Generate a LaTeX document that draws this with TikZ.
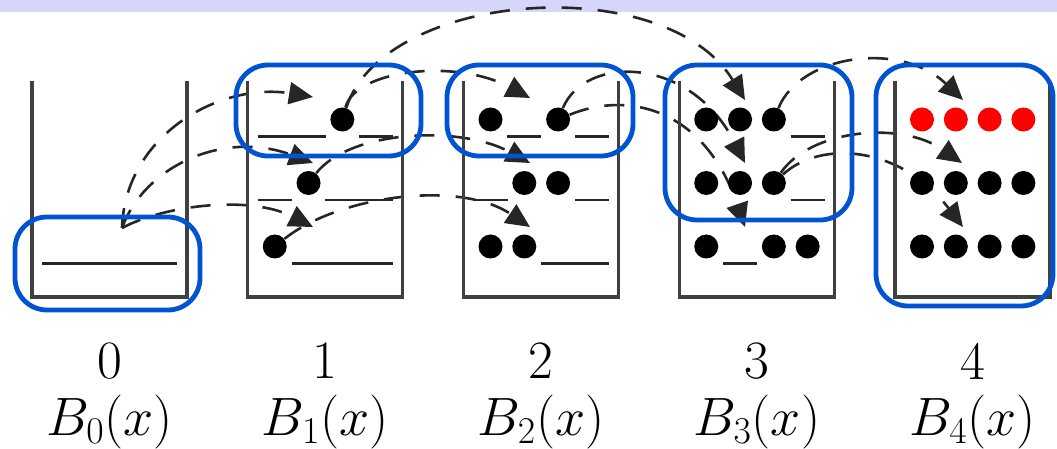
\RequirePackage{fix-cm}
\documentclass[tikz,border=0pt]{standalone}
\usepackage{tikz}
\usetikzlibrary{arrows.meta,backgrounds}

\definecolor{hlblue}{RGB}{0,84,210}
\definecolor{bandlilac}{RGB}{214,214,250}

% one row of four slots: bucket, row, cells (0 empty, 1 ball, 2 red ball)
\newcommand{\slotrow}[3]{%
  \foreach \cell [count=\k] in {#3}{%
    \pgfmathsetmacro{\sx}{32+215.75*#1+27+33.8*(\k-1)}%
    \pgfmathsetmacro{\sy}{73+63.5*#2}%
    \ifcase\cell
      \draw[slot] (\sx-17,\sy) -- (\sx+17,\sy);
    \or
      \node[ball] (d#1-#2-\k) at (\sx,\sy-17) {};
    \or
      \node[redball] (d#1-#2-\k) at (\sx,\sy-17) {};
    \fi
  }}

\begin{document}
\begin{tikzpicture}[x=0.5pt, y=-0.5pt,
  wall/.style={draw=black!75, line width=1.6pt},
  slot/.style={draw=black!85, line width=1.3pt},
  ball/.style={circle, fill=black, inner sep=0pt, minimum size=12pt},
  redball/.style={ball, fill=red},
  hop/.style={draw=black!85, line width=1.3pt, dash pattern=on 10pt off 8pt,
    -{Triangle[length=12pt,width=11pt]}},
  hlbox/.style={draw=hlblue, line width=2.4pt, rounded corners=16pt},
  lbl/.style={font=\fontsize{27}{32}\selectfont}]
\useasboundingbox (0,0) rectangle (1057,449);

% buckets and their labels
\foreach \i in {0,...,4}{
  \pgfmathsetmacro{\xl}{32+215.75*\i}
  \draw[wall] (\xl,81) -- (\xl,297) -- (\xl+155,297) -- (\xl+155,81);
  \node[lbl] (n\i) at (\xl+77.5,361) {\i};
  \node[lbl] (b\i) at (\xl+77.5,422) {$B_{\i}(x)$};
}

% contents
\slotrow{0}{3}{0,0,0,0}
\slotrow{1}{1}{0,0,1,0}
\slotrow{1}{2}{0,1,0,0}
\slotrow{1}{3}{1,0,0,0}
\slotrow{2}{1}{1,0,1,0}
\slotrow{2}{2}{0,1,1,0}
\slotrow{2}{3}{1,1,0,0}
\slotrow{3}{1}{1,1,1,0}
\slotrow{3}{2}{1,1,1,0}
\slotrow{3}{3}{1,0,1,1}
\slotrow{4}{1}{2,2,2,2}
\slotrow{4}{2}{1,1,1,1}
\slotrow{4}{3}{1,1,1,1}

\coordinate (s0) at (122,228);
\coordinate (t1-1) at (313,97);
\coordinate (t1-2) at (313,163);
\coordinate (t1-3) at (313,227);
\coordinate (t2-1) at (530,98);
\coordinate (t2-2) at (530,163);
\coordinate (t2-3) at (530,227);
\coordinate (t3-1) at (745,100);
\coordinate (t3-2) at (745,163);
\coordinate (t3-3) at (745,227);
\coordinate (t4-1) at (963,100);
\coordinate (t4-2) at (962,163);
\coordinate (t4-3) at (963,227);

\begin{scope}[on background layer]
\fill[bandlilac] (0,0) rectangle (1057,12);
\draw[hop] (s0) .. controls (125,135) and (220,82) .. (t1-1);
\draw[hop] (s0) .. controls (145,165) and (225,130) .. (t1-2);
\draw[hop] (s0) .. controls (165,205) and (250,195) .. (t1-3);
\draw[hop] (d1-1-3) .. controls (355,70) and (455,58) .. (t2-1);
\draw[hop] (d1-1-3) .. controls (385,-10) and (665,-30) .. (t3-1);
\draw[hop] (d1-2-2) .. controls (350,130) and (460,125) .. (t2-2);
\draw[hop] (d1-3-1) .. controls (340,195) and (460,180) .. (t2-3);
\draw[hop] (d2-1-3) .. controls (585,55) and (690,55) .. (t3-2);
\draw[hop] (d2-1-3) .. controls (630,90) and (705,110) .. (t3-3);
\draw[hop] (d3-1-3) .. controls (800,55) and (900,40) .. (t4-1);
\draw[hop] (d3-2-3) .. controls (810,130) and (900,120) .. (t4-2);
\draw[hop] (d3-2-3) .. controls (820,140) and (900,145) .. (t4-3);
\end{scope}

% highlighted rows
\draw[hlbox] (15,217) rectangle (200,310);
\draw[hlbox] (236,65) rectangle (421,156);
\draw[hlbox] (447,65) rectangle (633,156);
\draw[hlbox] (665,65) rectangle (852,220);
\draw[hlbox] (876,65) rectangle (1053,306);
\end{tikzpicture}
\end{document}
